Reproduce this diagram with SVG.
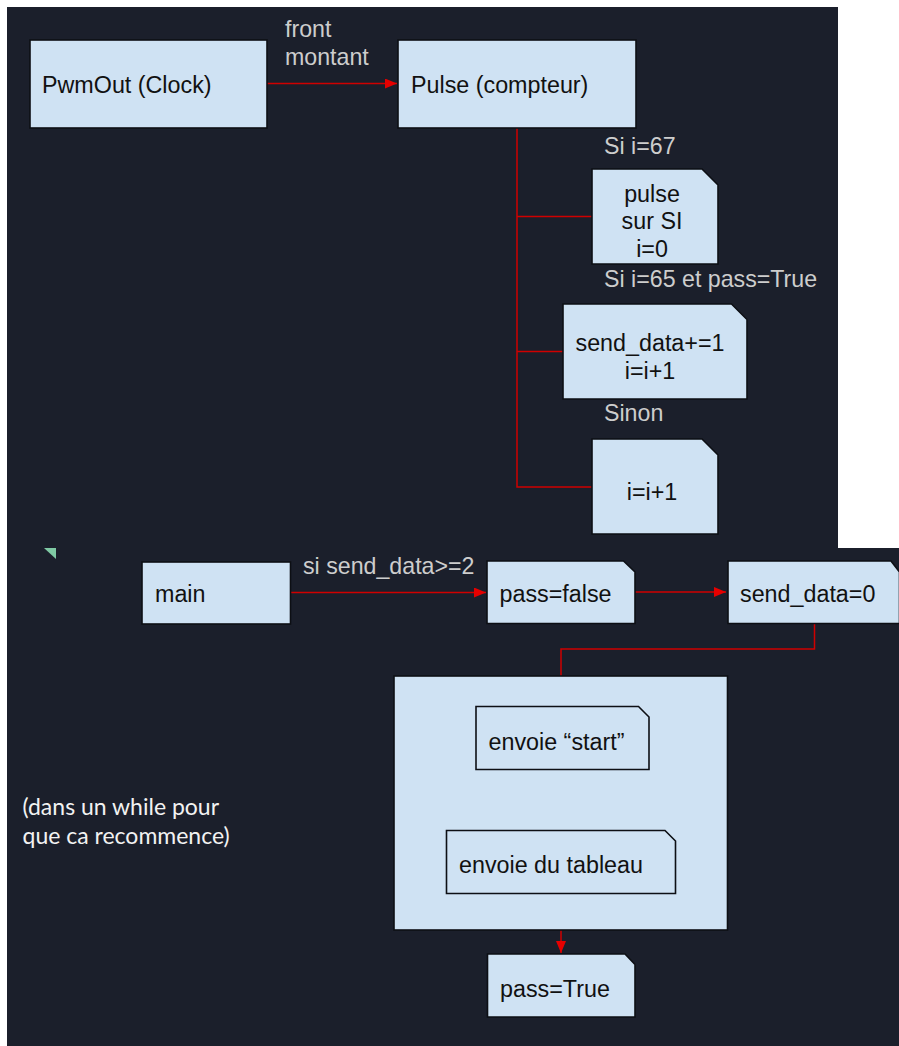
<svg xmlns="http://www.w3.org/2000/svg" width="899" height="1046" viewBox="0 0 899 1046">
<defs>
<style>
.bg{fill:#1b1f2b}
.n{fill:#cfe2f3;stroke:#0d0f14;stroke-width:1.6}
.t{font-family:"Liberation Sans",Arial,sans-serif;font-size:23.3px;fill:#111}
.tc{text-anchor:middle}
.lb{font-family:"Liberation Sans",Arial,sans-serif;font-size:23.2px;fill:#cdcdcd}
.note{font-family:Lato,"Liberation Sans",sans-serif;font-size:23px;fill:#f2f2f2}
.c{fill:none;stroke:#d00000;stroke-width:1.5}
</style>
<marker id="ah" viewBox="0 0 12 10" refX="12" refY="5" markerWidth="12" markerHeight="10" markerUnits="userSpaceOnUse" orient="auto">
<path d="M0,0 L12,5 L0,10 z" fill="#e60000"/>
</marker>
</defs>
<rect width="899" height="1046" fill="#ffffff"/>
<rect class="bg" x="7" y="7" width="831" height="542"/>
<rect class="bg" x="7" y="548" width="892" height="498"/>
<polygon points="44,548 56,548 56,559" fill="#7fc9a4"/>

<g id="connectors">
<path class="c" d="M267,83.5 H397" marker-end="url(#ah)"/>
<path class="c" d="M517,128 V487 H592"/>
<path class="c" d="M517,216.5 H592"/>
<path class="c" d="M517,351.5 H563"/>
<path class="c" d="M291,592.5 H486" marker-end="url(#ah)"/>
<path class="c" d="M635,592 H726" marker-end="url(#ah)"/>
<path class="c" d="M814.5,624 V649 H561 V676"/>
<path class="c" d="M561,930 V953" marker-end="url(#ah)"/>
</g>

<g id="pwmout">
<rect class="n" x="30" y="40" width="237" height="88"/>
<text class="t" x="42" y="93">PwmOut (Clock)</text>
</g>
<g id="pulse">
<rect class="n" x="398" y="40" width="238" height="88"/>
<text class="t" x="411" y="93">Pulse (compteur)</text>
</g>
<g id="lbl-front">
<text class="lb" x="285" y="37">front</text>
<text class="lb" x="285" y="64.5">montant</text>
</g>
<g id="lbl-si67"><text class="lb" x="604" y="154">Si i=67</text></g>
<g id="pulse-si">
<path class="n" d="M592,169 H702 L718,185 V264 H592 Z"/>
<text class="t tc" x="652" y="201.5">pulse</text>
<text class="t tc" x="652" y="229">sur SI</text>
<text class="t tc" x="652" y="256.5">i=0</text>
</g>
<g id="lbl-si65"><text class="lb" x="604" y="287">Si i=65 et pass=True</text></g>
<g id="send-inc">
<path class="n" d="M563,304 H731.5 L747,319.5 V399 H563 Z"/>
<text class="t tc" x="650" y="351">send_data+=1</text>
<text class="t tc" x="650" y="378.5">i=i+1</text>
</g>
<g id="lbl-sinon"><text class="lb" x="604" y="421">Sinon</text></g>
<g id="inc">
<path class="n" d="M592,439 H702 L718,455 V534 H592 Z"/>
<text class="t tc" x="652" y="499.5">i=i+1</text>
</g>

<g id="main">
<rect class="n" x="142" y="562" width="148.5" height="62"/>
<text class="t" x="155" y="601.5">main</text>
</g>
<g id="lbl-send"><text class="lb" x="303" y="573.5">si send_data&gt;=2</text></g>
<g id="passfalse">
<path class="n" d="M487,561 H623.5 L635,572 V623.5 H487 Z"/>
<text class="t" x="499.5" y="601.5">pass=false</text>
</g>
<g id="send0">
<path class="n" d="M728,561 H891 L899.5,572 V623.5 H728 Z"/>
<text class="t" x="740" y="601.5">send_data=0</text>
</g>
<g id="bigbox">
<rect class="n" x="394" y="676" width="333.5" height="254"/>
</g>
<g id="start">
<path class="n" d="M476,706.5 H638.5 L649,717 V769.5 H476 Z"/>
<text class="t" x="488.5" y="749.5">envoie “start”</text>
</g>
<g id="tableau">
<path class="n" d="M446.5,830.5 H665 L675.5,841 V893.5 H446.5 Z"/>
<text class="t" x="459" y="872.5">envoie du tableau</text>
</g>
<g id="passtrue">
<path class="n" d="M487.5,954 H625 L635,964.5 V1017 H487.5 Z"/>
<text class="t" x="500" y="997">pass=True</text>
</g>
<g id="note">
<text class="note" x="22.5" y="815">(dans un while pour</text>
<text class="note" x="22.5" y="843.5">que ca recommence)</text>
</g>
</svg>
